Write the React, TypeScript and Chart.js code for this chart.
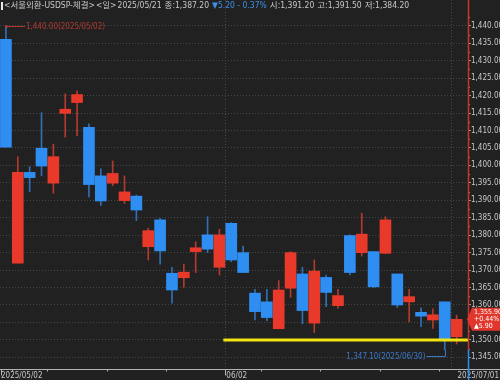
import { useEffect, useRef } from 'react';
import { Chart, registerables } from 'chart.js';

Chart.register(...registerables);

// ---- data ----
const dates = [
  '2025/05/02', '2025/05/07', '2025/05/08', '2025/05/09', '2025/05/12', '2025/05/13', '2025/05/14',
  '2025/05/15', '2025/05/16', '2025/05/19', '2025/05/20', '2025/05/21', '2025/05/22', '2025/05/23',
  '2025/05/26', '2025/05/27', '2025/05/28', '2025/05/29', '2025/05/30', '2025/06/02', '2025/06/04',
  '2025/06/05', '2025/06/09', '2025/06/10', '2025/06/11', '2025/06/12', '2025/06/13', '2025/06/16',
  '2025/06/17', '2025/06/18', '2025/06/19', '2025/06/20', '2025/06/23', '2025/06/24', '2025/06/25',
  '2025/06/26', '2025/06/27', '2025/06/30', '2025/07/01',
];
const opens = [
  1436.1, 1372.0, 1398.0, 1404.9, 1394.9, 1414.9, 1418.0, 1410.9, 1397.0, 1394.9, 1389.9, 1391.2, 1376.7,
  1384.4, 1369.1, 1367.8, 1375.3, 1380.1, 1370.8, 1383.4, 1375.0, 1363.4, 1360.9, 1353.2, 1364.8, 1368.9,
  1354.8, 1367.9, 1359.8, 1379.9, 1375.0, 1375.3, 1374.8, 1368.9, 1360.9, 1357.9, 1355.7, 1360.9, 1350.9,
];
const highs = [
  1440.0, 1402.5, 1399.6, 1415.1, 1406.1, 1420.5, 1421.4, 1411.9, 1399.0, 1401.3, 1397.0, 1391.5, 1382.0,
  1384.8, 1370.8, 1371.7, 1378.1, 1385.3, 1381.7, 1383.6, 1376.9, 1364.5, 1364.5, 1367.0, 1375.3, 1370.8,
  1372.9, 1368.6, 1364.5, 1380.1, 1386.3, 1375.3, 1385.3, 1368.9, 1364.5, 1359.2, 1358.9, 1360.9, 1357.1,
];
const lows = [
  1405.2, 1372.0, 1392.5, 1397.0, 1392.0, 1408.1, 1408.5, 1391.0, 1388.5, 1394.2, 1389.1, 1384.2, 1372.9,
  1371.7, 1360.5, 1365.1, 1369.3, 1375.0, 1368.6, 1372.4, 1369.3, 1355.7, 1355.5, 1353.2, 1362.2, 1354.6,
  1352.1, 1359.5, 1359.1, 1368.6, 1374.0, 1365.0, 1374.8, 1359.3, 1355.2, 1353.8, 1353.3, 1347.1, 1348.8,
];
const closes = [
  1405.2, 1398.0, 1396.5, 1399.8, 1402.5, 1416.1, 1420.3, 1394.5, 1389.8, 1397.7, 1392.4, 1387.2, 1381.3,
  1375.5, 1364.3, 1369.4, 1376.4, 1376.0, 1380.1, 1372.9, 1369.3, 1358.1, 1356.4, 1364.3, 1375.0, 1358.4,
  1369.7, 1363.6, 1362.7, 1369.3, 1380.3, 1365.2, 1384.4, 1360.0, 1362.4, 1356.8, 1357.2, 1350.0, 1355.9,
];
const yTickValues = [
  1345, 1350, 1355, 1360, 1365, 1370, 1375, 1380, 1385, 1390, 1395,
  1400, 1405, 1410, 1415, 1420, 1425, 1430, 1435, 1440,
];
const TITLE = '<서울외환-USDSP-체결>';
const PERIOD = '<일>';
const HOVER_INDEX = 11;
const PREV_LINE_START = 18.33;

// ---- style ----
const BG = '#212121';
const UP = '#e8392b';
const DOWN = '#2f8ef2';
const WICK_UP = '#b23a2e';
const WICK_DOWN = '#2f6fb8';
const TEXT = '#c8c8c8';
const FONT = "'Liberation Sans Narrow', 'DejaVu Sans Condensed', 'Noto Sans CJK KR', sans-serif";
const Y_MAX = 1447.39;
const Y_MIN = 1341.66;
const X_MIN = -0.5;

const fmt = (v: number) => {
  const [a, b] = Math.abs(v).toFixed(2).split('.');
  return (v < 0 ? '-' : '') + a.replace(/\B(?=(\d{3})+(?!\d))/g, ',') + '.' + b;
};
const toDate = (s: string) => {
  const [y, m, d] = s.split('/').map(Number);
  return new Date(y, m - 1, d);
};

export default function App() {
  const ref = useRef<HTMLCanvasElement>(null);

  useEffect(() => {
    const canvas = ref.current;
    if (!canvas) return;
    const n = dates.length;
    const idx = dates.map((_, i) => i);
    const isUp = (i: number) => closes[i] >= opens[i];
    const prevClose = closes[n - 2];
    const xMax = n - 0.04;

    const monthStarts = idx.filter(i => i > 0 && dates[i].slice(5, 7) !== dates[i - 1].slice(5, 7));
    const weekStarts = idx.filter(i => {
      if (i === 0) return true;
      const d = toDate(dates[i]);
      const p = toDate(dates[i - 1]);
      return d.getDay() <= p.getDay() || (d.getTime() - p.getTime()) >= 7 * 864e5;
    });

    const bgPlugin = {
      id: 'bg',
      beforeDraw(chart: any) {
        const { ctx, width, height } = chart;
        ctx.save();
        ctx.fillStyle = BG;
        ctx.fillRect(0, 0, width, height);
        ctx.restore();
      },
      beforeDatasetsDraw(chart: any) {
        const { ctx, chartArea, scales } = chart;
        const x = scales.x;
        ctx.save();
        ctx.strokeStyle = '#4a4a4a';
        ctx.lineWidth = 1;
        ctx.setLineDash([1, 2]);
        monthStarts.forEach(i => {
          const px = Math.round(x.getPixelForValue(i - 0.5)) + 0.5;
          ctx.beginPath();
          ctx.moveTo(px, 0);
          ctx.lineTo(px, chartArea.bottom);
          ctx.stroke();
        });
        ctx.restore();
      },
    };

    const decorPlugin = {
      id: 'decor',
      afterDraw(chart: any) {
        const { ctx, chartArea, scales, width, height } = chart;
        const x = scales.x;
        const y = scales.y;
        ctx.save();

        // minor ticks on right axis
        ctx.strokeStyle = '#8a8a8a';
        ctx.lineWidth = 1;
        for (let k = 0; k < yTickValues.length; k++) {
          const v = yTickValues[k] + 2.5;
          const py = Math.round(y.getPixelForValue(v)) + 0.5;
          if (py < chartArea.top || py > chartArea.bottom) continue;
          ctx.beginPath();
          ctx.moveTo(chartArea.right, py);
          ctx.lineTo(chartArea.right + 2, py);
          ctx.stroke();
        }

        // x axis
        const axY = chartArea.bottom + 0.5;
        ctx.strokeStyle = '#b4b4b4';
        ctx.beginPath();
        ctx.moveTo(0, axY);
        ctx.lineTo(width, axY);
        ctx.stroke();
        weekStarts.forEach(i => {
          const px = Math.round(x.getPixelForValue(i - 0.5)) + 0.5;
          const long = i === 0 || monthStarts.includes(i);
          ctx.beginPath();
          ctx.moveTo(Math.max(px, 1.5), axY);
          ctx.lineTo(Math.max(px, 1.5), axY + (long ? 6 : 2));
          ctx.stroke();
        });
        ctx.fillStyle = TEXT;
        ctx.font = `8px ${FONT}`;
        ctx.textBaseline = 'alphabetic';
        ctx.textAlign = 'left';
        ctx.fillText(dates[0], 1, 377.5);
        monthStarts.filter(i => i < n - 1).forEach(i => {
          const px = x.getPixelForValue(i - 0.5);
          ctx.fillText(dates[i].slice(5), px + 1, 377.5);
        });
        ctx.textAlign = 'right';
        ctx.fillText(dates[n - 1], width - 1, 377.5);

        // right axis line, red above / blue below
        const minLow = Math.min(...lows);
        const splitY = y.getPixelForValue(minLow);
        const axX = chartArea.right + 0.5;
        ctx.lineWidth = 1.5;
        ctx.strokeStyle = '#c8352a';
        ctx.beginPath();
        ctx.moveTo(axX, 0);
        ctx.lineTo(axX, splitY);
        ctx.stroke();
        ctx.strokeStyle = DOWN;
        ctx.beginPath();
        ctx.moveTo(axX, splitY);
        ctx.lineTo(axX, height);
        ctx.stroke();
        ctx.lineWidth = 1;

        // max annotation
        const maxV = Math.max(...highs);
        const iMax = highs.indexOf(maxV);
        const mx = x.getPixelForValue(iMax);
        const my = Math.round(y.getPixelForValue(maxV)) + 0.5;
        ctx.strokeStyle = '#b0392e';
        ctx.fillStyle = '#b0392e';
        ctx.beginPath();
        ctx.moveTo(mx, my);
        ctx.lineTo(mx + 19, my);
        ctx.stroke();
        ctx.beginPath();
        ctx.arc(mx + 0.5, my, 1.5, 0, Math.PI * 2);
        ctx.fill();
        ctx.textAlign = 'left';
        ctx.textBaseline = 'middle';
        ctx.font = `8px ${FONT}`;
        ctx.fillText(`${fmt(maxV)}(${dates[iMax]})`, mx + 20, my + 0.5);

        // min annotation
        const iMin = lows.indexOf(minLow);
        const nx = Math.round(x.getPixelForValue(iMin)) + 0.5;
        const ny = y.getPixelForValue(minLow);
        const ly = Math.round(ny + 6) + 0.5;
        ctx.strokeStyle = '#3a78c8';
        ctx.fillStyle = '#3a78c8';
        ctx.beginPath();
        ctx.moveTo(nx, ny);
        ctx.lineTo(nx, ly);
        ctx.lineTo(nx - 19, ly);
        ctx.stroke();
        ctx.textAlign = 'right';
        ctx.fillText(`${fmt(minLow)}(${dates[iMin]})`, nx - 20, ly);

        // price tag
        const last = n - 1;
        const lastClose = closes[last];
        const chg = lastClose - prevClose;
        const pct = (chg / prevClose) * 100;
        const ty = y.getPixelForValue(lastClose);
        const tl = chartArea.right - 1;
        ctx.fillStyle = chg >= 0 ? '#e0362b' : DOWN;
        ctx.beginPath();
        ctx.moveTo(tl, ty);
        ctx.lineTo(tl + 5, ty - 11.5);
        ctx.lineTo(width, ty - 11.5);
        ctx.lineTo(width, ty + 11.5);
        ctx.lineTo(tl + 5, ty + 11.5);
        ctx.closePath();
        ctx.fill();
        ctx.fillStyle = '#ffffff';
        ctx.font = `7px ${FONT}`;
        ctx.textAlign = 'left';
        ctx.textBaseline = 'middle';
        const tx = chartArea.right + 6;
        ctx.fillText(fmt(lastClose), tx, ty - 7);
        ctx.fillText(`${chg >= 0 ? '+' : '-'}${Math.abs(pct).toFixed(2)}%`, tx, ty - 0.5);
        ctx.fillText(`${chg >= 0 ? '▲' : '▼'}${Math.abs(chg).toFixed(2)}`, tx, ty + 6.5);

        // header
        const h = HOVER_INDEX;
        const hChg = closes[h] - closes[h - 1];
        const hPct = (hChg / closes[h - 1]) * 100;
        ctx.fillStyle = '#e8e8e8';
        ctx.fillRect(1, 2, 2, 8);
        ctx.font = `8.5px ${FONT}`;
        ctx.textAlign = 'left';
        ctx.textBaseline = 'middle';
        const segs: [string, string][] = [
          [TITLE, TEXT],
          [PERIOD, TEXT],
          [dates[h], TEXT],
          [`종:${fmt(closes[h])}`, TEXT],
          [`${hChg < 0 ? '▼' : '▲'}${fmt(Math.abs(hChg))} ${hChg < 0 ? '-' : '+'} ${Math.abs(hPct).toFixed(2)}%`, hChg < 0 ? '#3d8fe8' : UP],
          [`시:${fmt(opens[h])}`, TEXT],
          [`고:${fmt(highs[h])}`, TEXT],
          [`저:${fmt(lows[h])}`, TEXT],
        ];
        let cx = 4;
        segs.forEach(([s, c], k) => {
          ctx.fillStyle = c;
          ctx.fillText(s, cx, 6);
          cx += ctx.measureText(s).width + (k < 2 ? 1 : 3);
        });

        ctx.restore();
      },
    };

    const chart = new Chart(canvas, {
      type: 'bar',
      data: {
        datasets: [
          {
            type: 'bar',
            label: 'wick',
            data: idx.map(i => ({ x: i, y: [lows[i], highs[i]] })) as any,
            backgroundColor: idx.map(i => (isUp(i) ? WICK_UP : WICK_DOWN)),
            barThickness: 1,
            grouped: false,
            borderWidth: 0,
            order: 3,
          } as any,
          {
            type: 'bar',
            label: 'body',
            data: idx.map(i => ({ x: i, y: [opens[i], closes[i]] })) as any,
            backgroundColor: idx.map(i => (isUp(i) ? UP : DOWN)),
            barThickness: 11,
            grouped: false,
            borderWidth: 0,
            minBarLength: 1,
            order: 2,
          } as any,
          {
            type: 'line',
            label: 'prev',
            data: [
              { x: PREV_LINE_START, y: prevClose },
              { x: xMax, y: prevClose },
            ],
            borderColor: '#f2e412',
            borderWidth: 3,
            pointRadius: 0,
            order: 1,
          } as any,
        ],
      },
      options: {
        responsive: false,
        animation: false,
        devicePixelRatio: 1,
        layout: { padding: 0 },
        plugins: { legend: { display: false }, tooltip: { enabled: false }, title: { display: false } },
        scales: {
          x: {
            type: 'linear',
            min: X_MIN,
            max: xMax,
            offset: false,
            grid: { display: false },
            border: { display: false },
            ticks: { display: false },
            afterFit: (s: any) => {
              s.height = 11;
              s.paddingLeft = 0;
              s.paddingRight = 0;
            },
          },
          y: {
            position: 'right',
            min: Y_MIN,
            max: Y_MAX,
            beginAtZero: false,
            grid: { color: '#484848', lineWidth: 1, tickColor: '#9a9a9a', tickLength: 3, drawTicks: true },
            border: { display: false, dash: [1, 2] },
            ticks: {
              color: TEXT,
              font: { family: FONT, size: 8 },
              padding: 0,
              callback: (v: any) => fmt(Number(v)),
            },
            afterBuildTicks: (s: any) => {
              s.ticks = yTickValues.map(v => ({ value: v }));
            },
            afterFit: (s: any) => {
              s.width = 32;
              s.paddingTop = 0;
              s.paddingBottom = 0;
            },
          },
        },
      } as any,
      plugins: [bgPlugin, decorPlugin],
    });

    return () => chart.destroy();
  }, []);

  return (
    <div style={{ position: 'fixed', left: 0, top: 0, width: 500, height: 380, background: BG }}>
      <canvas ref={ref} width={500} height={380} style={{ display: 'block', width: 500, height: 380 }} />
    </div>
  );
}
